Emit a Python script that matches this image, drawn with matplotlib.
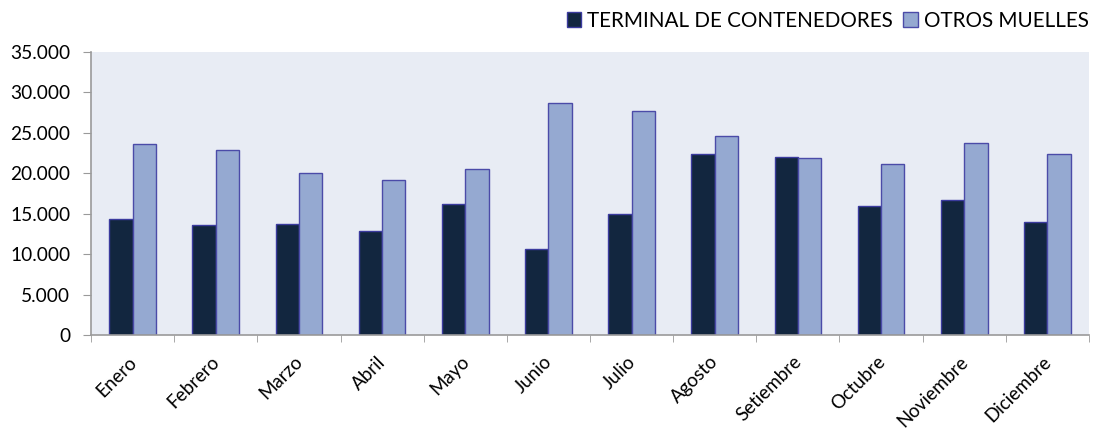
import matplotlib.pyplot as plt
import numpy as np
from matplotlib.ticker import FuncFormatter, FixedLocator

plt.rcParams['font.family'] = ['Lato', 'DejaVu Sans']

meses = ['Enero', 'Febrero', 'Marzo', 'Abril', 'Mayo', 'Junio', 'Julio',
         'Agosto', 'Setiembre', 'Octubre', 'Noviembre', 'Diciembre']
terminal = [14350, 13560, 13690, 12820, 16200, 10680, 14920,
            22420, 21970, 15910, 16650, 13970]
otros = [23600, 22900, 20070, 19130, 20490, 28650, 27700,
         24570, 21850, 21100, 23740, 22420]

fig = plt.figure(figsize=(10.94, 4.30), dpi=100)
ax = fig.add_axes([0.0832, 0.2209, 0.9122, 0.6581])
ax.set_facecolor('#E8ECF4')

x = np.arange(len(meses))
w = 0.28
ax.bar(x - w / 2, terminal, w, color='#12263F', edgecolor='#3B3B9E', lw=1,
       label='TERMINAL DE CONTENEDORES')
ax.bar(x + w / 2, otros, w, color='#95A9D1', edgecolor='#4B4BA8', lw=1,
       label='OTROS MUELLES')

ax.set_xlim(-0.5, len(meses) - 0.5)
ax.set_ylim(0, 35000)
ax.set_yticks(np.arange(0, 35001, 5000))
ax.yaxis.set_major_formatter(FuncFormatter(lambda v, p: '0' if v == 0 else f'{int(v):,}'.replace(',', '.')))

ax.set_xticks(x - 0.06)
ax.set_xticklabels(meses, rotation=45, ha='right', rotation_mode='anchor', fontsize=13.5)
ax.xaxis.set_minor_locator(FixedLocator(np.arange(-0.5, len(meses), 1)))
ax.tick_params(axis='x', which='major', length=0, pad=13)
ax.tick_params(axis='x', which='minor', length=5, color='#9A9A9A')
ax.tick_params(axis='y', length=6, color='#9A9A9A', labelsize=13.8, pad=9)

for s in ['top', 'right']:
    ax.spines[s].set_visible(False)
for s in ['left', 'bottom']:
    ax.spines[s].set_color('#9A9A9A')
    ax.spines[s].set_linewidth(1.2)

leg = ax.legend(loc='center right', bbox_to_anchor=(1.0, 1.11), ncol=2, frameon=False,
                fontsize=14.9, handlelength=0.7, handleheight=0.7, handletextpad=0.3,
                columnspacing=0.5, borderaxespad=0, borderpad=0)

fig.savefig('out.png', dpi=100)
